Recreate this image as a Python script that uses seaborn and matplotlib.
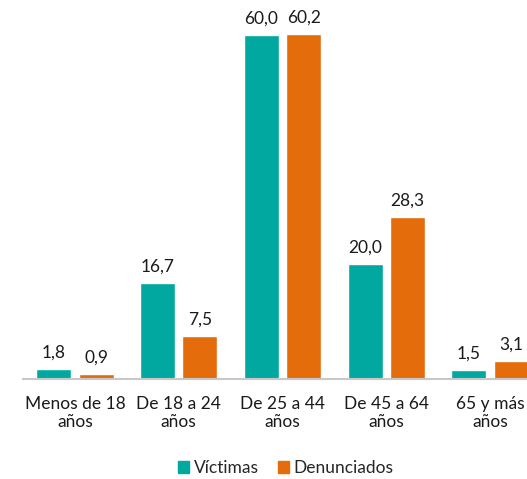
import pandas as pd
import matplotlib.pyplot as plt
import seaborn as sns
from matplotlib.patches import Patch

categorias = ['Menos de 18\naños', 'De 18 a 24\naños', 'De 25 a 44\naños',
              'De 45 a 64\naños', '65 y más\naños']
victimas = [1.8, 16.7, 60.0, 20.0, 1.5]
denunciados = [0.9, 7.5, 60.2, 28.3, 3.1]
series = ['Víctimas', 'Denunciados']
colores = ['#00A8A0', '#E46C0A']

df = pd.DataFrame({
    'grupo': categorias * 2,
    'serie': [series[0]] * len(categorias) + [series[1]] * len(categorias),
    'valor': victimas + denunciados,
})

sns.set_style('white')
plt.rcParams['font.family'] = ['Lato', 'DejaVu Sans']

fig = plt.figure(figsize=(5.27, 4.79), dpi=100)
# el eje se sale por la derecha, como en el original (última barra cortada)
ax = fig.add_axes([23 / 527, 100 / 479, 519 / 527, 369 / 479])

sns.barplot(data=df, x='grupo', y='valor', hue='serie', palette=colores,
            width=0.82, gap=0.178, saturation=1, legend=False, ax=ax)

for cont in ax.containers:
    etiquetas = [f'{b.get_height():.1f}'.replace('.', ',') for b in cont]
    ax.bar_label(cont, labels=etiquetas, padding=6, fontsize=12.5, color='#1a1a1a')

ax.set_xlim(-0.5, 4.5)
ax.set_ylim(0, 64.3)
ax.set_xlabel('')
ax.set_ylabel('')
ax.set_yticks([])
for s in ['left', 'top', 'right']:
    ax.spines[s].set_visible(False)
ax.spines['bottom'].set_color('#C8C8C8')
ax.spines['bottom'].set_linewidth(1.5)
ax.tick_params(axis='x', which='major', length=0, pad=12, labelsize=12.5, colors='#1a1a1a')
ax.set_xticks([i - 0.5 for i in range(6)], minor=True)
ax.tick_params(axis='x', which='minor', length=5, width=1.5, color='#C8C8C8', direction='out')

handles = [Patch(color=c, label=s) for c, s in zip(colores, series)]
fig.legend(handles=handles, loc='center', bbox_to_anchor=(286 / 527, 11 / 479),
           ncol=2, frameon=False, fontsize=12.5, handlelength=0.63, handleheight=0.63,
           handletextpad=0.25, columnspacing=1.15)

fig.savefig('out.png', dpi=100)
